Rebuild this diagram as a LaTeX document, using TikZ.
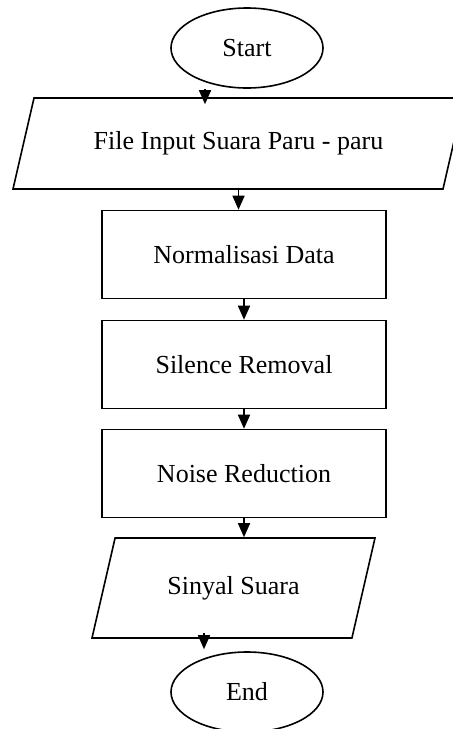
\documentclass[tikz,border=0pt]{standalone}
\usepackage{fontspec}
\setmainfont{Liberation Serif}
\usetikzlibrary{shapes.geometric,arrows.meta}
\begin{document}
\begin{tikzpicture}[x=0.5pt,y=-0.5pt,
		terminal/.style={draw,ellipse,line width=0.8pt,minimum width=76pt,minimum height=40pt,inner sep=0pt},
		process/.style={draw,rectangle,line width=0.8pt,minimum width=142pt,minimum height=44pt},
		data/.style={draw,trapezium,trapezium left angle=77,trapezium right angle=103,trapezium stretches body=true,
			text height=9pt,text depth=3pt,inner xsep=0pt,line width=0.8pt},
		flow/.style={-{Triangle[width=6pt,length=7pt]},line width=0.8pt},
		font=\fontsize{13}{15}\selectfont]
			\useasboundingbox (0,0) rectangle (453,729);
			\node[terminal] (start) at (247,48) {Start};
			\node[data,minimum width=225.5pt,inner ysep=16.75pt] (input) at (238.5,143.5) {File Input Suara Paru - paru};
			\node[process] (norm) at (244,254.5) {Normalisasi Data};
			\node[process] (silence) at (244,364.5) {Silence Removal};
			\node[process] (noise) at (244,473.5) {Noise Reduction};
			\node[data,minimum width=141.5pt,inner ysep=19pt] (output) at (233.5,588) {Sinyal Suara};
			\node[terminal] (end) at (247,692) {End};
			\draw[flow] ([xshift=-21pt]start.south) -- ([xshift=-21pt,yshift=-3.5pt]start.south |- input.north);
			\draw[flow] (input.south) -- (input.south |- norm.north);
			\draw[flow] (norm.south) -- (silence.north);
			\draw[flow] (silence.south) -- (noise.north);
			\draw[flow] (noise.south) -- (noise.south |- output.north);
			\draw[flow] ([xshift=-21.5pt,yshift=3pt]end.north |- output.south) -- ([xshift=-21.5pt,yshift=1pt]end.north);
		\end{tikzpicture}
\end{document}
